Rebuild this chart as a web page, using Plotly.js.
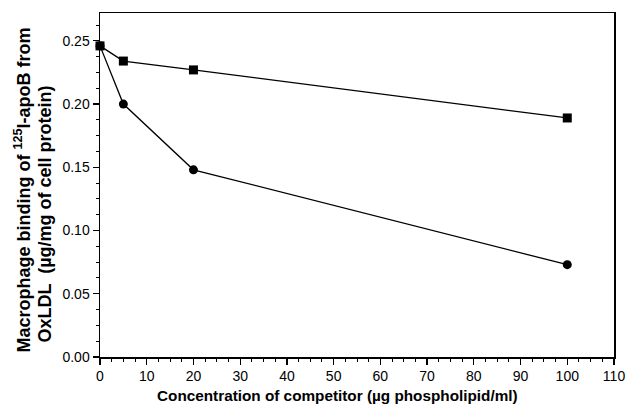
<!DOCTYPE html>
<html><head><meta charset="utf-8">
<script src="https://cdn.plot.ly/plotly-3.0.1.min.js"></script>
<style>html,body{margin:0;padding:0;background:#fff;}</style>
</head><body>
<div id="chart" style="width:628px;height:408px;"></div>
<script>
const concentration = [0, 5, 20, 100];
const squareSeries = [0.246, 0.234, 0.227, 0.189];
const circleSeries = [0.246, 0.200, 0.148, 0.073];
const xTickVals = [0,10,20,30,40,50,60,70,80,90,100,110];
const yTickVals = [0.00,0.05,0.10,0.15,0.20,0.25];
const xTitle = 'Concentration of competitor (µg phospholipid/ml)';
const yTitleLine1 = 'Macrophage binding of <sup>125</sup>I-apoB from';
const yTitleLine2 = 'OxLDL  (µg/mg of cell protein)';

const traces = [
  {x: concentration, y: squareSeries, mode:'lines+markers', type:'scatter',
   line:{color:'#000', width:1.3}, marker:{symbol:'square', size:9, color:'#000'}, cliponaxis:false},
  {x: concentration, y: circleSeries, mode:'lines+markers', type:'scatter',
   line:{color:'#000', width:1.3}, marker:{symbol:'circle', size:9, color:'#000'}, cliponaxis:false}
];
const fam = 'Liberation Sans, Arial, sans-serif';
const layout = {
  width:628, height:408,
  margin:{l:100, r:14, t:13, b:51},
  showlegend:false,
  paper_bgcolor:'#fff', plot_bgcolor:'#fff',
  font:{family:fam, size:14, color:'#000'},
  xaxis:{range:[0,110], tickvals:xTickVals, ticktext:xTickVals.map(String),
    showgrid:false, zeroline:false, showline:true, linecolor:'#000', linewidth:1.5, mirror:true,
    ticks:'outside', ticklen:6, tickwidth:1.3, tickcolor:'#000',
    minor:{dtick:2.5, ticks:'outside', ticklen:3, tickcolor:'#000', tickwidth:1},
    tickfont:{size:14}},
  yaxis:{range:[0,0.272], tickvals:yTickVals, ticktext:yTickVals.map(v=>v.toFixed(2)),
    showgrid:false, zeroline:false, showline:true, linecolor:'#000', linewidth:1.5, mirror:true,
    ticks:'outside', ticklen:6, tickwidth:1.3, tickcolor:'#000',
    minor:{dtick:0.0125, ticks:'outside', ticklen:3, tickcolor:'#000', tickwidth:1},
    tickfont:{size:14}},
  annotations:[
    {text:'<b>'+xTitle+'</b>', xref:'paper', yref:'paper', x:0.463, y:-0.1105,
     xanchor:'center', yanchor:'middle', showarrow:false, font:{size:15.3}},
    {text:'<b>'+yTitleLine1+'</b>', xref:'paper', yref:'paper', x:0, y:0.5,
     xshift:-77, yshift:-5.5, xanchor:'center', yanchor:'middle', textangle:-90, showarrow:false, font:{size:18}},
    {text:'<b>'+yTitleLine2+'</b>', xref:'paper', yref:'paper', x:0, y:0.5,
     xshift:-56, yshift:-29.5, xanchor:'center', yanchor:'middle', textangle:-90, showarrow:false, font:{size:18}}
  ]
};
Plotly.newPlot('chart', traces, layout, {staticPlot:true, displayModeBar:false});
</script>
</body></html>
